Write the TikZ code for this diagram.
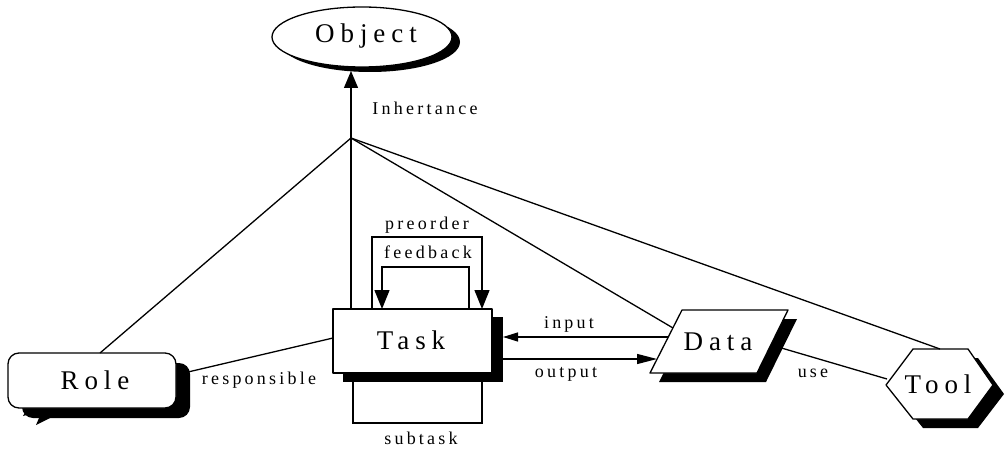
\documentclass[tikz,border=0pt]{standalone}
\usepackage{fontspec}
\setmainfont{Liberation Serif}
\newfontfamily\bigfont[LetterSpace=22]{Liberation Serif}
\newfontfamily\lblfont[LetterSpace=18]{Liberation Serif}
\usetikzlibrary{arrows.meta,shapes.geometric}
\begin{document}
\begin{tikzpicture}[x=1pt,y=-1pt,
  shp/.style={draw=black,fill=white,line width=1.3pt,line join=round},
  shd/.style={fill=black},
  conn/.style={line width=1.3pt},
  big/.style={inner sep=0pt,font=\bigfont\fontsize{27}{30}\selectfont},
  lbl/.style={inner sep=0pt,font=\lblfont\fontsize{18}{20}\selectfont},
  bigtip/.style={-{Triangle[length=17pt,width=14pt]}},
  loopTip/.style={-{Triangle[length=19pt,width=15pt]}},
  intip/.style={-{Triangle[length=15pt,width=9pt]}},
  outtip/.style={-{Triangle[length=20pt,width=10pt]}}]
\useasboundingbox (0,0) rectangle (1008,449);

% ---------- Object ----------
\fill[shd] (370,42) ellipse [x radius=90pt, y radius=30pt];
\draw[shp] (362,37) ellipse [x radius=90pt, y radius=30pt];
\node[big] (obj) at (366,36) {Object};
\coordinate (objb) at (351,71);

% ---------- Task ----------
\fill[shd] (343,317) rectangle (503,382);
\draw[shp] (333,309) rectangle (492,373);
\node[big] (task) at (411,340) {Task};

% ---------- Data ----------
\fill[shd] (691,319) -- (797,319) -- (766,382) -- (659,382) -- cycle;
\draw[shp] (682,310) -- (788,310) -- (757,373) -- (650,373) -- cycle;
\node[big] (data) at (718,342) {Data};

% ---------- Tool ----------
\fill[shd] (896,394) -- (923,358) -- (978,358) -- (1004,394) -- (978,428) -- (923,428) -- cycle;
\draw[shp] (886,385) -- (913,349) -- (968,349) -- (993,385) -- (968,419) -- (913,419) -- cycle;
\node[big] (tool) at (938,384) {Tool};

% ---------- Role ----------
\fill[shd, rounded corners=11pt] (22,363) rectangle (190,418);
\fill[shd] (30,404) -- (23,416) -- (42,411) -- (36,425) -- (62,412) -- (62,404) -- cycle;
\draw[shp, rounded corners=11pt] (8,353) rectangle (176,408);
\node[big] (role) at (95,380) {Role};

% ---------- hub and connectors ----------
\coordinate (hub) at (351,138);
\coordinate (roletop) at (100,353);
\coordinate (roleright) at (188,372);
\coordinate (tasktop) at (351,309);
\coordinate (taskleft) at (333,338);
\coordinate (dataleft) at (673,328);
\coordinate (datain) at (668,337);
\coordinate (dataout) at (657,359);
\coordinate (dataright) at (778,347);
\coordinate (tooltop) at (940,349);
\coordinate (toolleft) at (887,379);
\coordinate (taskin) at (503,337);
\coordinate (taskout) at (503,359);

\draw[conn,bigtip] (hub) -- (objb);
\draw[conn] (hub) -- (roletop);
\draw[conn] (hub) -- (tasktop);
\draw[conn] (hub) -- (dataleft);
\draw[conn] (hub) -- (tooltop);
\draw[conn] (roleright) -- (taskleft);
\draw[conn] (dataright) -- (toolleft);
\draw[conn,intip] (datain) -- (taskin);
\draw[conn,outtip] (taskout) -- (dataout);

% preorder / feedback loops
\coordinate (preA) at (372,309);
\coordinate (preB) at (482,309);
\coordinate (fbA) at (469,309);
\coordinate (fbB) at (382,309);
\coordinate (subA) at (353,382);
\coordinate (subB) at (482,382);
\draw[conn,loopTip] (preA) |- (412,237) -| (preB);
\draw[conn,loopTip] (fbA) |- (420,267) -| (fbB);
\draw[conn] (subA) |- (420,423) -| (subB);

% ---------- labels ----------
\node[lbl] (linh) at (425,108) {Inhertance};
\node[lbl] (lpre) at (427,225) {preorder};
\node[lbl] (lfb) at (428,252) {feedback};
\node[lbl] (lsub) at (421,438) {subtask};
\node[lbl] (lin) at (569,324) {input};
\node[lbl] (lout) at (566,374) {output};
\node[lbl] (lresp) at (259,380) {responsible};
\node[lbl] (luse) at (813,373) {use};
\end{tikzpicture}
\end{document}
